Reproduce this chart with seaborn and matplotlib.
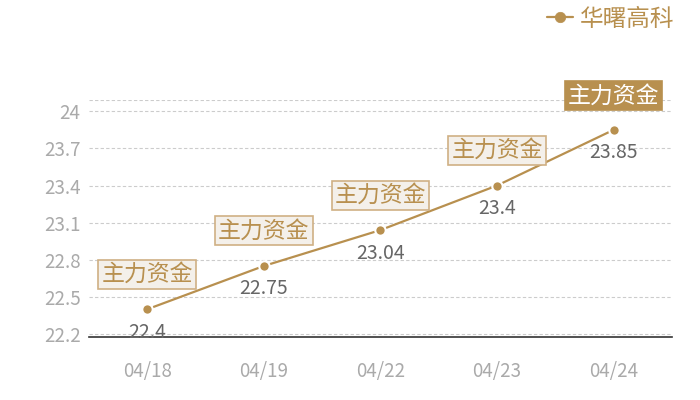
import numpy as np
import pandas as pd
import seaborn as sns
import matplotlib.pyplot as plt
from matplotlib.lines import Line2D

dates = ['04/18', '04/19', '04/22', '04/23', '04/24']
price = [22.4, 22.75, 23.04, 23.4, 23.85]
tag = '主力资金'
series_name = '华曙高科'
yticks = [22.2, 22.5, 22.8, 23.1, 23.4, 23.7, 24.0]

gold = '#b8904f'

sns.set_theme(style='white')
plt.rcParams['font.family'] = ['Noto Sans CJK SC', 'DejaVu Sans']

df = pd.DataFrame({'date': dates, 'price': price})

fig = plt.figure(figsize=(7, 4), dpi=100)
ax = fig.add_axes([0.127, 0.1575, 0.833, 0.5925])

sns.lineplot(data=df, x='date', y='price', ax=ax, color=gold, lw=1.6,
             marker='o', markersize=7.5, markeredgecolor='white',
             markeredgewidth=1.5, sort=False)

ax.set_xlim(-0.5, len(dates) - 0.5)
ax.set_ylim(22.176, 24.091)
ax.set_yticks(yticks)
ax.set_yticklabels(['%g' % t for t in yticks])
ax.set_xlabel('')
ax.set_ylabel('')

for t in yticks:
    ax.axhline(t, color='#cccccc', lw=0.8, ls=(0, (3, 2)), zorder=0)
ax.axhline(24.091, color='#cccccc', lw=0.8, ls=(0, (3, 2)), zorder=0)

for s in ['top', 'left', 'right']:
    ax.spines[s].set_visible(False)
ax.spines['bottom'].set_color('#333333')
ax.spines['bottom'].set_linewidth(1.2)

ax.tick_params(axis='x', length=0, pad=17, labelsize=13.5, labelcolor='#aaaaaa')
ax.tick_params(axis='y', length=0, pad=6, labelsize=13.5, labelcolor='#aaaaaa')

# value labels + tag boxes
for i, v in enumerate(price):
    ax.annotate('%g' % v, xy=(i, v), xytext=(0, -23), textcoords='offset pixels',
                ha='center', va='center', fontsize=14, color='#666666')
    last = i == len(price) - 1
    ax.annotate(tag, xy=(i, v), xytext=(0, 34 if last else 35),
                textcoords='offset pixels', ha='center', va='center',
                fontsize=16.5, color='white' if last else gold,
                bbox=dict(boxstyle='square,pad=0.13',
                          fc=gold if last else '#f4f0ea',
                          ec=gold if last else '#cfb084', lw=1.2))

handle = Line2D([0], [0], color=gold, lw=1.6, marker='o', markersize=7.5,
                markeredgecolor=gold, markeredgewidth=0.5)
leg = fig.legend([handle], [series_name], loc='center right',
                 bbox_to_anchor=(0.994, 0.952), frameon=False,
                 fontsize=17, handlelength=1.1, handletextpad=0.3)
for txt in leg.get_texts():
    txt.set_color(gold)

fig.savefig('out.png', dpi=100)
